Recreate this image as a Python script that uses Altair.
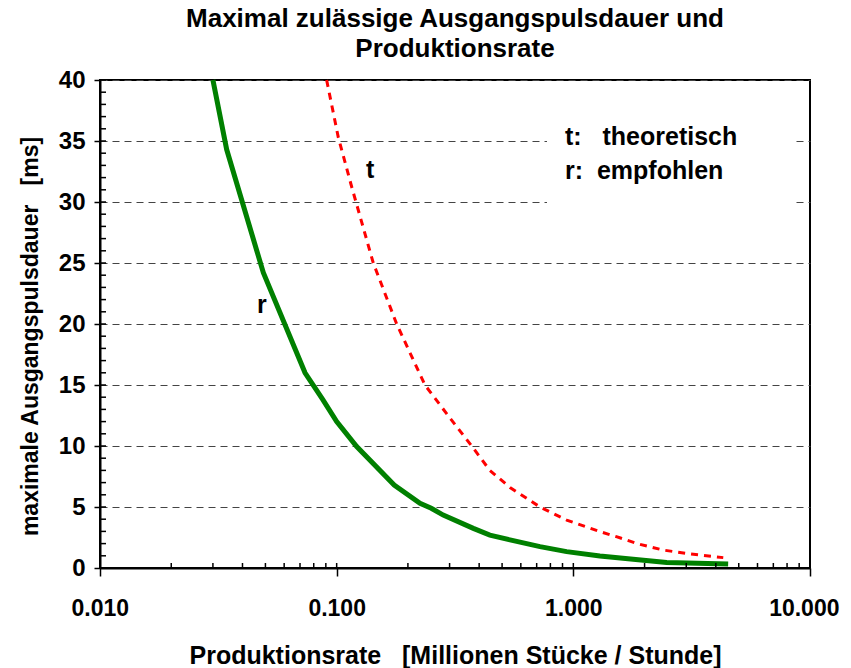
import altair as alt
import pandas as pd

# ---- data ----
r_x = [0.030, 0.0343, 0.049, 0.0735, 0.0874, 0.100, 0.1215, 0.175, 0.225, 0.251,
       0.282, 0.378, 0.444, 0.54, 0.723, 0.937, 1.295, 1.79, 2.48, 4.51]
r_y = [40.0, 34.3, 24.2, 16.0, 13.8, 12.0, 9.95, 6.8, 5.3, 4.9,
       4.34, 3.25, 2.7, 2.3, 1.75, 1.34, 0.98, 0.71, 0.46, 0.33]

t_x = [0.0907, 0.1016, 0.1157, 0.1428, 0.1793, 0.236, 0.301, 0.372, 0.444,
       0.54, 0.723, 0.937, 1.295, 1.52, 1.88, 2.40, 3.11, 4.30]
t_y = [40.0, 35.3, 31.25, 25.0, 20.0, 15.0, 12.3, 10.0, 8.0,
       6.6, 5.0, 3.93, 2.98, 2.57, 1.97, 1.47, 1.15, 0.85]

x_ticks = [0.01, 0.1, 1, 10]
x_minor = [m * d for d in (0.01, 0.1, 1) for m in range(1, 10)] + [10]
y_ticks = list(range(0, 41, 5))
y_minor = list(range(0, 41))

label_text = ["t", "r", "t:\u00a0\u00a0\u00a0theoretisch", "r:\u00a0\u00a0empfohlen"]
label_x = [0.133, 0.0461, 0.922, 0.922]
label_y = [31.97, 20.9, 34.67, 31.9]

box_x, box_x2, box_y, box_y2 = [0.774], [8.47], [27.5], [39.5]

title_lines = ["Maximal zulässige Ausgangspulsdauer und", "Produktionsrate"]
x_title = "Produktionsrate\u00a0\u00a0\u00a0[Millionen Stücke / Stunde]"
y_title = "maximale Ausgangspulsdauer\u00a0\u00a0\u00a0[ms]"

# ---- chart ----
W, H = 710, 488
FONT = "Liberation Sans"
xs = alt.Scale(type="log", domain=[0.01, 10])
ys = alt.Scale(domain=[0, 40])

r_df = pd.DataFrame({"x": r_x, "y": r_y})
t_df = pd.DataFrame({"x": t_x, "y": t_y})

x_axis = alt.Axis(values=x_ticks, format=".3f", title=x_title, grid=False,
                  tickSize=8, tickColor="black", tickWidth=1.5,
                  domainColor="black", domainWidth=2,
                  labelFont=FONT, labelFontSize=23, labelFontWeight="bold",
                  labelColor="black", labelPadding=21,
                  labelFlush=True, labelFlushOffset=29,
                  titleFont=FONT, titleFontSize=25, titleFontWeight="bold",
                  titleColor="black", titleY=95, titleX=W / 2,
                  titleBaseline="alphabetic", titleAlign="center")
y_axis = alt.Axis(values=y_ticks, title=y_title, grid=True,
                  gridDash=[7, 5], gridColor="#444444", gridWidth=1,
                  tickSize=6, tickColor="black", tickWidth=1.5,
                  domainColor="black", domainWidth=2,
                  labelFont=FONT, labelFontSize=24, labelFontWeight="bold",
                  labelColor="black", labelPadding=9,
                  titleFont=FONT, titleFontSize=23, titleFontWeight="bold",
                  titleColor="black", titleX=-70, titleY=256, titleAngle=-90,
                  titleAlign="center", titleBaseline="middle")

X = alt.X("x:Q", scale=xs, axis=x_axis)
Y = alt.Y("y:Q", scale=ys, axis=y_axis)

box = alt.Chart(pd.DataFrame({"x": box_x, "x2": box_x2, "y": box_y, "y2": box_y2})).mark_rect(
    color="white").encode(x=X, x2="x2:Q", y=Y, y2="y2:Q")

green = alt.Chart(r_df).mark_line(color="#008000", strokeWidth=5).encode(x=X, y=Y)

red = alt.Chart(t_df).mark_line(color="#FF0000", strokeWidth=3, strokeDash=[7, 6]).encode(x=X, y=Y)

ymin = alt.Chart(pd.DataFrame({"y": y_minor})).mark_rule(color="black", strokeWidth=1.5).encode(
    y=Y, x=alt.value(0), x2=alt.value(6))

xmin = alt.Chart(pd.DataFrame({"x": x_minor})).mark_rule(color="black", strokeWidth=1.5).encode(
    x=X, y=alt.value(H), y2=alt.value(H - 5))

labels = alt.Chart(pd.DataFrame({"x": label_x, "y": label_y, "t": label_text})).mark_text(
    font=FONT, fontSize=25, fontWeight="bold", color="black", align="left",
    baseline="alphabetic").encode(x=X, y=Y, text="t:N")

chart = alt.layer(box, green, red, ymin, xmin, labels).properties(
    width=W, height=H,
    autosize=alt.AutoSizeParams(type="none"),
    padding={"left": 92, "top": 72, "right": 33, "bottom": 100},
    title=alt.TitleParams(text=title_lines, font=FONT, fontSize=26, fontWeight="bold",
                          color="black", anchor="middle", offset=6, lineHeight=30),
).configure_view(stroke="black", strokeWidth=2)

chart.save("out.html", embed_options={"renderer": "svg", "actions": False})
